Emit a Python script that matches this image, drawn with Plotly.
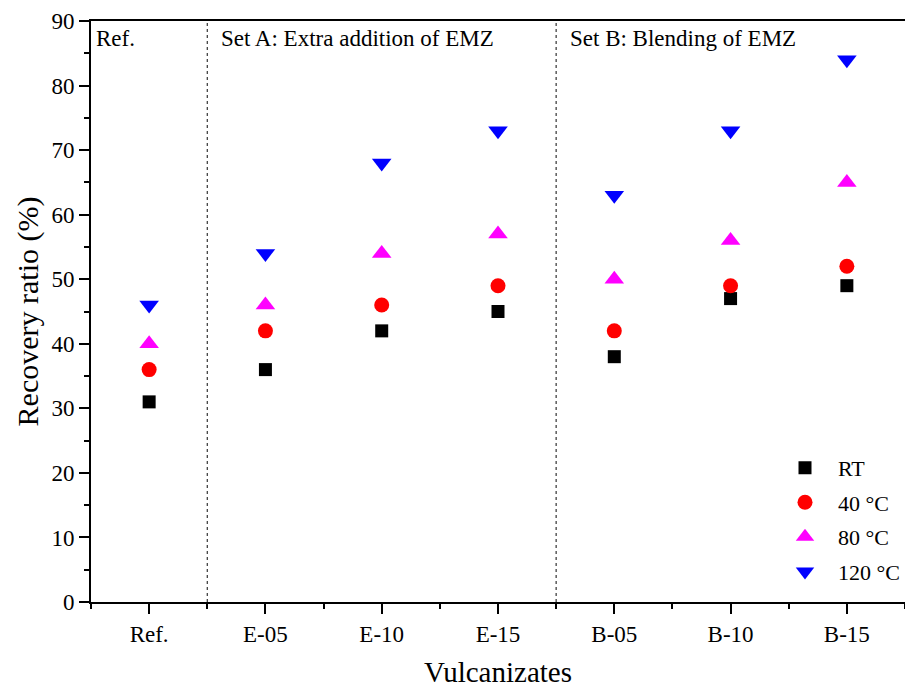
import plotly.graph_objects as go

categories = ["Ref.", "E-05", "E-10", "E-15", "B-05", "B-10", "B-15"]
rt_vals = [31, 36, 42, 45, 38, 47, 49]
c40_vals = [36, 42, 46, 49, 42, 49, 52]
c80_vals = [40, 46, 54, 57, 50, 56, 65]
c120_vals = [46, 54, 68, 73, 63, 73, 84]
series_names = ["RT", "40 °C", "80 °C", "120 °C"]
group_labels = ["Ref.", "Set A: Extra addition of EMZ", "Set B: Blending of EMZ"]
group_label_x = [-0.47, 0.6, 3.6]
divider_x = [0.5, 3.5]

FONT = "Liberation Serif"
xs = list(range(len(categories)))

styles = [
    dict(symbol="square", color="black", size=13),
    dict(symbol="circle", color="red", size=15),
    dict(symbol="triangle-up", color="magenta", size=17),
    dict(symbol="triangle-down", color="blue", size=17),
]
all_vals = [rt_vals, c40_vals, c80_vals, c120_vals]

fig = go.Figure()
for i, (name, vals, st) in enumerate(zip(series_names, all_vals, styles)):
    fig.add_trace(go.Scatter(
        x=xs, y=vals, mode="markers", name=name, legendgroup=f"g{i}",
        marker=dict(symbol=st["symbol"], color=st["color"], size=st["size"], line=dict(width=0)),
    ))

for dx in divider_x:
    fig.add_shape(type="line", x0=dx, x1=dx, y0=0, y1=90, xref="x", yref="y",
                  line=dict(color="#333333", width=1.2, dash="dot"))

for lbl, lx in zip(group_labels, group_label_x):
    fig.add_annotation(x=lx, y=87.3, xref="x", yref="y", text=lbl, showarrow=False,
                       xanchor="left", yanchor="middle", font=dict(family=FONT, size=23, color="black"))

fig.update_layout(
    width=905, height=688,
    margin=dict(l=91, r=0, t=21, b=86),
    plot_bgcolor="white", paper_bgcolor="white",
    font=dict(family=FONT, color="black"),
    legend=dict(x=1.0, y=0.267, xanchor="right", yanchor="top",
                font=dict(family=FONT, size=22), bgcolor="rgba(0,0,0,0)",
                tracegroupgap=3, traceorder="grouped", itemwidth=56),
    xaxis=dict(
        range=[-0.5, 6.5], tickvals=xs, ticktext=categories,
        showline=True, linecolor="black", linewidth=2, mirror=True,
        ticks="outside", ticklen=10, tickwidth=1.5, tickcolor="black",
        showgrid=False, zeroline=False, automargin=False,
        tickfont=dict(family=FONT, size=23),
        minor=dict(tickmode="array", tickvals=[-0.5, 0.5, 1.5, 2.5, 3.5, 4.5, 5.5, 6.5],
                   ticks="outside", ticklen=5, tickwidth=1.5, tickcolor="black", showgrid=False),
        title=dict(text="Vulcanizates", font=dict(family=FONT, size=29), standoff=22),
    ),
    yaxis=dict(
        range=[0, 90], tickvals=list(range(0, 91, 10)),
        showline=True, linecolor="black", linewidth=2, mirror=False,
        ticks="outside", ticklen=10, tickwidth=1.5, tickcolor="black",
        showgrid=False, zeroline=False, automargin=False,
        tickfont=dict(family=FONT, size=23),
        minor=dict(tickmode="array", tickvals=list(range(5, 90, 10)),
                   ticks="outside", ticklen=5, tickwidth=1.5, tickcolor="black", showgrid=False),
        title=dict(text="Recovery ratio (%)", font=dict(family=FONT, size=30), standoff=4),
    ),
)

fig.write_html("out.html")
